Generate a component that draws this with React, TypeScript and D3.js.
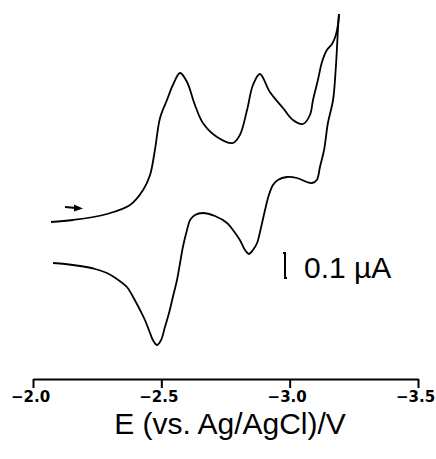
import React, { useEffect, useRef } from 'react';
import * as d3 from 'd3';

// forward (cathodic) scan: potential in V, current in µA (arbitrary zero)
const forwardE = [-2.070, -2.156, -2.288, -2.378, -2.429, -2.456, -2.475, -2.495, -2.522, -2.545, -2.573, -2.600, -2.631, -2.662, -2.717, -2.779, -2.806, -2.834, -2.857, -2.884, -2.923, -2.974, -3.013, -3.052, -3.079, -3.091, -3.110, -3.126, -3.145, -3.165, -3.180, -3.188, -3.192];
const forwardI = [0.072, 0.080, 0.104, 0.140, 0.200, 0.260, 0.360, 0.488, 0.560, 0.620, 0.668, 0.632, 0.540, 0.468, 0.412, 0.388, 0.420, 0.520, 0.620, 0.664, 0.592, 0.528, 0.480, 0.464, 0.500, 0.560, 0.640, 0.712, 0.760, 0.784, 0.820, 0.860, 0.904];

// reverse scan back toward -2.0 V
const reverseE = [-3.192, -3.188, -3.180, -3.169, -3.149, -3.134, -3.118, -3.106, -3.087, -3.067, -3.028, -2.989, -2.954, -2.935, -2.919, -2.904, -2.888, -2.873, -2.857, -2.841, -2.826, -2.806, -2.779, -2.756, -2.709, -2.662, -2.631, -2.612, -2.600, -2.584, -2.573, -2.561, -2.545, -2.530, -2.514, -2.499, -2.483, -2.467, -2.456, -2.436, -2.417, -2.390, -2.366, -2.327, -2.288, -2.242, -2.183, -2.125, -2.078];
const reverseI = [0.904, 0.840, 0.692, 0.560, 0.468, 0.360, 0.292, 0.240, 0.228, 0.232, 0.248, 0.252, 0.240, 0.220, 0.180, 0.120, 0.048, -0.012, -0.040, -0.056, -0.040, 0.000, 0.040, 0.068, 0.096, 0.108, 0.100, 0.080, 0.040, -0.028, -0.092, -0.160, -0.228, -0.292, -0.348, -0.400, -0.420, -0.400, -0.372, -0.320, -0.280, -0.228, -0.188, -0.156, -0.132, -0.116, -0.104, -0.096, -0.092];

const xTicks = [-2.0, -2.5, -3.0, -3.5];
const xTitle = 'E (vs. Ag/AgCl)/V';
const scaleBarValue = 0.1; // µA
const scaleBarLabel = '0.1 µA';

const W = 436;
const H = 459;

export default function App() {
  const svgRef = useRef<SVGSVGElement>(null);

  useEffect(() => {
    const svg = d3.select(svgRef.current);
    svg.selectAll('*').remove();

    const x = d3.scaleLinear().domain([-2.0, -3.5]).range([33, 418]);
    const y = d3.scaleLinear().domain([0, 1]).range([240, -10]);

    const line = d3.line<[number, number]>()
      .x(d => x(d[0]))
      .y(d => y(d[1]))
      .curve(d3.curveCatmullRom.alpha(0.5));

    const fwd = forwardE.map((e, i) => [e, forwardI[i]] as [number, number]);
    const rev = reverseE.map((e, i) => [e, reverseI[i]] as [number, number]);

    // voltammogram
    [fwd, rev].forEach(pts => {
      svg.append('path')
        .attr('d', line(pts))
        .attr('fill', 'none')
        .attr('stroke', '#000')
        .attr('stroke-width', 1.8)
        .attr('stroke-linejoin', 'round');
    });

    // start arrow
    const ay = 208;
    svg.append('line')
      .attr('x1', 65).attr('y1', ay - 1).attr('x2', 76).attr('y2', ay)
      .attr('stroke', '#000').attr('stroke-width', 1.8);
    svg.append('path')
      .attr('d', `M74,${ay - 3.5} L83,${ay + 0.5} L74,${ay + 3.5} Z`)
      .attr('fill', '#000');

    // x axis
    const axis = d3.axisBottom(x)
      .tickValues(xTicks)
      .tickSize(9)
      .tickSizeOuter(0)
      .tickPadding(3)
      .tickFormat(d3.format('.1f'));

    const gx = svg.append('g')
      .attr('transform', 'translate(0,379)')
      .call(axis)
      .attr('font-family', '"DejaVu Sans", sans-serif')
      .attr('font-size', 15)
      .attr('font-weight', 'bold');
    gx.select('.domain').attr('stroke', '#000').attr('stroke-width', 2);
    gx.selectAll('.tick line').attr('stroke', '#000').attr('stroke-width', 2);
    gx.selectAll('.tick text')
      .attr('fill', '#000')
      .attr('dx', -3);

    svg.append('text')
      .attr('x', 230)
      .attr('y', 434)
      .attr('text-anchor', 'middle')
      .style('font-family', '"Liberation Sans", Arial, sans-serif')
      .style('font-size', '30px')
      .text(xTitle);

    // current scale bar
    const barX = 285;
    const barBottom = 278;
    const barTop = barBottom - (y(0) - y(scaleBarValue));
    svg.append('path')
      .attr('d', `M${barX - 2},${barTop} H${barX} V${barBottom} H${barX + 2}`)
      .attr('fill', 'none')
      .attr('stroke', '#000')
      .attr('stroke-width', 2);
    svg.append('text')
      .attr('x', 304)
      .attr('y', 278)
      .style('font-family', '"Liberation Sans", Arial, sans-serif')
      .style('font-size', '30px')
      .text(scaleBarLabel);
  }, []);

  return (
    <svg
      ref={svgRef}
      width={W}
      height={H}
      style={{ position: 'absolute', left: 0, top: 0, background: '#fff' }}
    />
  );
}
